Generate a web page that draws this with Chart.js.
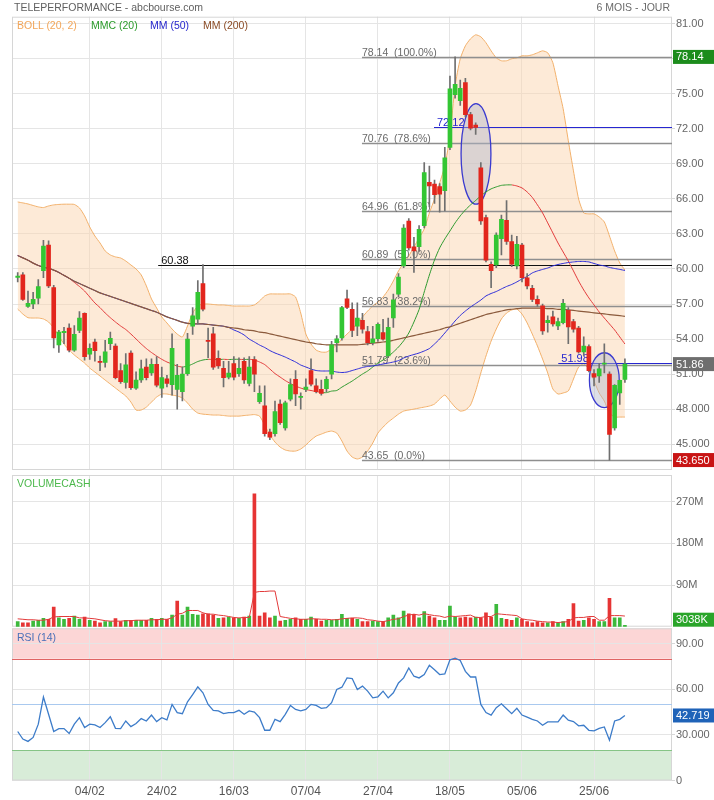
<!DOCTYPE html>
<html><head><meta charset="utf-8">
<script src="https://cdn.jsdelivr.net/npm/chart.js@4.4.0/dist/chart.umd.min.js"></script>
<style>
html,body{margin:0;padding:0;background:#fff;}
#wrap{position:relative;width:714px;height:800px;overflow:hidden;font-family:"Liberation Sans",Arial,sans-serif;}
canvas{position:absolute;left:0;}
.t{position:absolute;white-space:nowrap;line-height:11px;font-size:10.5px;}
</style></head><body>
<div id="wrap">
<canvas id="cPrice" width="714" height="471" style="top:0;width:714px;height:471px"></canvas>
<canvas id="cVol" width="714" height="160" style="top:470px;width:714px;height:160px"></canvas>
<canvas id="cRsi" width="714" height="173" style="top:627px;width:714px;height:173px"></canvas>
<div class="t" style="left:14px;top:2px;color:#5f5f5f">TELEPERFORMANCE - abcbourse.com</div>
<div class="t" style="right:44px;top:2px;color:#6a6a6a">6 MOIS - JOUR</div>
<div class="t" style="left:17px;top:20px;color:#f2a65a">BOLL (20, 2)</div>
<div class="t" style="left:91px;top:20px;color:#2a9a2a">MMC (20)</div>
<div class="t" style="left:150px;top:20px;color:#2525cc">MM (50)</div>
<div class="t" style="left:203px;top:20px;color:#8a4a24">MM (200)</div>
<div class="t" style="left:17px;top:478px;color:#4cb84c">VOLUMECASH</div>
<div class="t" style="left:17px;top:632px;color:#4a70b8">RSI (14)</div>
</div>
<script>
// ---------------- DATA ----------------
const dates = ['15/01','16/01','19/01','20/01','21/01','22/01','23/01','26/01','27/01','28/01','29/01','30/01',
'02/02','03/02','04/02','05/02','06/02','09/02','10/02','11/02','12/02','13/02','16/02','17/02','18/02','19/02','20/02','23/02','24/02','25/02','26/02','27/02',
'02/03','03/03','04/03','05/03','06/03','09/03','10/03','11/03','12/03','13/03','16/03','17/03','18/03','19/03','20/03','23/03','24/03','25/03','26/03','27/03','30/03','31/03',
'01/04','02/04','07/04','08/04','09/04','10/04','13/04','14/04','15/04','16/04','17/04','20/04','21/04','22/04','23/04','24/04','27/04','28/04','29/04','30/04',
'04/05','05/05','06/05','07/05','08/05','11/05','12/05','13/05','14/05','15/05','18/05','19/05','20/05','21/05','22/05','25/05','26/05','27/05','28/05','29/05',
'01/06','02/06','03/06','04/06','05/06','08/06','09/06','10/06','11/06','12/06','15/06','16/06','17/06','18/06','19/06','22/06','23/06','24/06','25/06','26/06','29/06','30/06',
'01/07','02/07','03/07'];
const dateTicks = ['04/02','24/02','16/03','07/04','27/04','18/05','05/06','25/06'];

const open = [59.28,59.5,56.8,57.0,57.5,59.85,62.05,58.4,53.5,54.55,54.95,53.05,54.75,56.2,52.7,53.75,52.1,52.0,53.6,53.4,
51.3,50.3,52.8,49.8,50.5,51.6,51.1,51.85,49.8,50.6,50.1,49.7,49.5,51.05,55.1,55.7,58.75,53.9,54.45,52.35,
51.5,50.75,51.9,51.05,52.1,50.2,52.25,48.65,48.3,46.05,45.9,48.45,46.4,48.85,50.55,49.0,49.7,51.3,50.0,49.7,
49.75,51.0,53.7,54.1,57.45,56.55,55.1,55.6,54.65,53.7,54.03,54.55,52.55,55.8,57.85,60.25,64.1,61.9,61.9,63.7,
67.4,67.25,67.05,66.7,70.4,74.9,74.4,75.95,73.2,72.3,68.65,64.4,60.4,60.35,62.6,64.15,62.35,60.25,62.05,59.25,
58.35,57.4,56.85,55.4,55.9,55.12,55.4,56.45,55.5,54.95,52.9,53.35,51.05,50.85,51.85,51.0,46.4,49.4,50.55];
const high = [59.7,59.7,58.1,58.0,59.1,62.45,62.4,58.6,54.75,55.0,55.3,55.15,56.35,56.25,53.6,54.0,52.55,53.9,54.6,53.6,
51.9,52.75,53.0,51.2,52.2,52.3,52.3,52.5,51.6,50.9,54.45,51.85,51.6,54.5,56.7,59.0,60.38,54.95,55.0,53.0,
52.1,52.1,52.5,52.4,52.4,52.5,52.5,50.0,50.0,46.3,48.7,48.8,48.7,50.6,51.3,49.4,50.6,52.3,50.6,50.5,
50.8,53.8,54.3,56.8,58.2,57.1,57.1,56.2,55.1,55.1,55.4,55.7,55.8,57.85,59.6,63.8,64.3,62.7,63.7,69.1,
68.8,67.6,67.3,70.4,76.5,78.14,76.15,76.3,73.4,72.5,69.1,64.6,60.6,63.1,64.6,65.85,62.9,62.8,62.2,59.6,
58.6,57.7,57.0,56.0,56.4,55.8,57.4,56.7,55.7,55.1,54.2,53.5,51.4,51.9,53.6,51.2,50.1,50.5,52.3];
const low = [58.9,57.3,56.7,56.6,57.0,59.25,58.4,53.25,52.85,53.6,52.9,52.95,54.55,52.2,52.25,52.1,51.3,51.6,53.1,50.6,
50.2,49.8,49.7,49.7,50.3,50.5,50.9,49.9,49.0,49.9,49.2,48.0,48.7,50.9,54.4,55.3,56.4,52.4,51.4,51.5,
49.9,50.6,50.5,50.8,50.2,50.0,49.5,48.5,45.7,45.4,45.7,46.7,46.2,48.7,48.3,48.0,49.5,50.0,49.4,49.2,
49.5,50.6,52.9,53.9,56.6,54.2,54.3,54.5,53.5,53.5,53.8,53.9,52.4,55.0,57.6,60.1,61.6,59.7,61.5,63.5,
65.3,65.6,64.85,64.96,70.2,74.6,74.0,73.0,71.9,71.5,63.8,60.6,58.4,60.1,61.2,62.1,60.2,60.0,58.9,58.3,
57.2,56.8,54.4,54.6,55.1,54.8,55.3,53.6,54.6,52.8,52.6,51.2,50.0,50.3,51.1,43.65,46.2,48.4,50.3];
const close = [59.32,57.4,57.05,57.4,58.5,61.95,58.55,54.1,54.6,54.65,53.05,54.4,55.8,52.5,53.2,53.0,52.0,52.9,54.07,50.7,
50.35,51.8,49.85,50.5,51.45,50.7,51.85,50.05,50.7,50.2,53.2,50.9,51.0,54.0,56.0,58.0,56.55,53.8,51.6,51.7,
50.7,51.1,50.75,51.5,50.5,51.6,51.0,49.35,45.9,45.6,47.8,46.85,48.55,50.1,49.3,49.1,49.9,50.15,49.5,49.35,
50.55,53.5,54.03,56.7,56.7,54.75,55.8,54.85,53.7,54.03,55.26,54.0,55.0,57.35,59.3,63.5,61.8,61.55,63.4,68.25,
67.1,66.35,66.4,69.5,75.4,75.8,75.45,73.2,72.05,72.1,64.1,60.75,59.85,62.9,64.25,62.35,60.4,62.1,59.25,58.55,
57.4,57.0,54.7,55.6,55.3,55.5,57.05,55.05,54.85,52.9,53.4,51.3,50.75,51.45,51.9,45.85,50.05,50.47,51.86];

const bollUpper = [65.73,65.65,65.56,65.43,65.31,65.25,65.39,65.48,65.52,65.54,65.54,65.52,65.22,64.54,63.59,62.82,62.22,61.54,61.20,61.03,
60.94,60.68,60.34,60.00,59.49,58.55,57.43,56.66,55.89,55.38,54.86,54.43,54.18,55.12,56.23,56.83,57.00,57.00,56.96,56.92,
56.92,56.87,56.83,56.83,56.83,56.83,56.92,57.26,57.69,57.86,57.86,57.86,57.86,57.86,57.60,56.23,54.43,53.58,53.06,52.89,
52.89,53.15,53.49,54.01,54.43,54.86,55.38,55.89,56.40,56.83,57.17,57.60,58.20,58.97,59.83,60.51,61.11,61.88,62.65,63.42,
64.79,65.99,67.36,68.82,71.39,75.67,77.98,79.09,79.69,80.03,79.86,79.35,78.66,78.06,77.81,77.81,77.98,78.06,78.23,78.23,
78.32,78.49,78.66,78.49,77.64,75.67,73.70,70.96,68.39,65.99,64.79,64.71,64.71,64.45,64.02,62.82,61.54,60.51,59.91];
const bollLower = [56.57,56.14,55.83,55.80,55.80,55.72,55.46,54.95,54.26,53.58,53.06,52.64,52.29,51.95,51.52,51.18,50.84,50.49,50.15,49.81,
49.47,49.13,48.61,47.93,47.93,48.18,48.61,49.04,49.30,49.30,49.21,49.13,48.96,48.53,48.01,47.67,47.58,47.54,47.50,47.50,
47.46,47.41,47.41,47.41,47.46,47.50,47.54,47.41,46.64,45.79,45.19,44.76,44.51,44.42,44.42,44.59,44.94,45.36,45.70,45.87,
46.04,46.13,45.96,45.28,44.42,43.91,43.74,43.91,44.42,45.11,45.96,46.47,46.90,47.24,47.58,47.84,47.93,48.01,48.10,48.18,
48.27,48.44,48.87,49.21,48.70,48.18,47.84,47.93,48.36,49.56,51.10,52.55,53.83,54.86,55.72,56.23,56.49,56.57,56.14,55.38,
54.43,53.41,52.29,51.10,49.73,49.30,49.39,49.56,50.58,51.61,51.87,51.44,50.41,49.39,48.70,47.67,47.33,47.33,47.33];

const mmc20 = [61.15,60.95,60.75,60.5,60.3,60.15,60.05,59.9,59.7,59.45,59.2,58.85,58.50,58.11,57.60,57.09,56.69,56.23,55.83,55.46,
55.12,54.82,54.43,54.01,53.58,53.19,52.85,52.55,52.27,52.04,51.87,51.69,51.61,51.69,51.87,52.08,52.21,52.27,52.25,52.25,
52.27,52.25,52.27,52.27,52.25,52.27,52.21,52.04,51.82,51.44,51.05,50.75,50.45,50.20,49.98,49.81,49.68,49.60,49.51,49.42,
49.42,49.55,49.60,49.89,50.15,50.41,50.71,51.01,51.27,51.61,51.95,52.21,52.51,52.89,53.32,53.85,54.52,55.46,56.53,58.03,
59.48,60.77,61.80,62.57,63.25,63.94,64.54,65.05,65.48,65.86,66.25,66.59,66.85,67.02,67.15,67.19,67.19,67.10,66.93,66.59,
66.12,65.48,64.79,63.94,63.08,62.22,61.45,60.68,59.83,58.97,58.20,57.52,56.92,56.32,55.80,55.29,54.78,54.18,53.58];
const mm200 = [61.15,60.95,60.75,60.5,60.3,60.15,60.05,59.9,59.7,59.45,59.2,58.95,58.75,58.55,58.35,58.15,57.95,57.8,57.65,57.5,
57.35,57.2,57.05,56.9,56.75,56.6,56.45,56.3,56.1,55.9,55.75,55.6,55.45,55.35,55.3,55.3,55.3,55.25,55.2,55.15,
55.1,55.0,54.95,54.9,54.8,54.75,54.7,54.6,54.55,54.45,54.35,54.25,54.15,54.05,53.95,53.85,53.75,53.7,53.6,53.55,
53.5,53.5,53.5,53.5,53.5,53.5,53.5,53.55,53.6,53.65,53.7,53.75,53.8,53.9,54.0,54.1,54.2,54.3,54.4,54.5,
54.6,54.7,54.8,54.95,55.05,55.2,55.35,55.5,55.65,55.8,55.95,56.1,56.2,56.3,56.4,56.5,56.55,56.6,56.65,56.65,
56.65,56.65,56.65,56.6,56.6,56.55,56.55,56.5,56.45,56.4,56.35,56.3,56.25,56.2,56.15,56.1,56.05,56.0,55.95];
const mm50 = [61.15,60.95,60.75,60.5,60.3,60.15,60.05,59.9,59.7,59.45,59.2,58.95,58.75,58.55,58.35,58.15,57.95,57.8,57.65,57.5,
57.35,57.2,57.05,56.9,56.75,56.6,56.45,56.3,56.1,55.9,55.75,55.6,55.45,55.35,55.3,55.3,55.3,55.25,55.2,55.15,
55.1,55.0,54.78,54.60,54.35,54.00,53.75,53.49,53.28,53.02,52.81,52.64,52.46,52.25,52.04,51.78,51.61,51.44,51.31,51.27,
51.27,51.27,51.18,51.14,51.18,51.31,51.44,51.57,51.66,51.70,51.78,51.87,51.95,52.04,52.16,52.38,52.55,52.68,52.81,52.98,
53.19,53.58,54.01,54.52,55.03,55.55,56.02,56.40,56.74,57.04,57.34,57.69,57.90,58.07,58.29,58.50,58.67,58.89,59.14,59.36,
59.66,59.83,59.96,60.08,60.26,60.38,60.47,60.55,60.60,60.64,60.64,60.60,60.47,60.34,60.26,60.13,60.04,59.96,59.87];

// volume in millions
const volume = [10.8,8.6,8.6,12.2,13.7,18,15.8,42.5,19.4,15.8, 18,23,15.8,20.9,13.7,12.2,8.6,10.8,10.8,17.3,
10.8,13.7,13.7,13.7,13.7,13.7,18,15.8,18,15.8, 25.2,55.4,25.2,42.5,26.6,25.2,28,28,25.2,18,
19.4,20.9,19.4,18,20.9,23,287,23,30.2,19.4, 23,12.2,13.7,15.8,19.4,15.8,15.8,20.9,15.8,12.2,
13.7,13.7,15.8,26.6,18,18,15.8,10.8,10.8,12.2, 10.8,10.8,19.4,25.2,19.4,33.8,28,26.6,19.4,32.4,
23,19.4,13.7,13.7,44.6,20.9,19.4,20.9,19.4,20.9, 19.4,30.2,20.9,48.2,18,15.8,13.7,19.4,15.8,10.8,
8.6,10.8,8.6,8.6,10.8,8.6,10.8,15.8,49.7,12.2, 13.7,19.4,15.8,10.8,10.8,61.2,19.4,19.4,3.038];
const volumeMA = [17,16,15,15,14,14,16,21,22,22, 22,22,19,19,18,17,15,13,12,12,
12,13,13,14,14,14,15,15,16,16, 19,27,29,35,35,35,30,27,27,25,
24,22,20,19,20,20,74,76,76,77, 77,22,20,18,17,16,16,17,17,16,
16,15,15,17,18,19,19,18,15,14, 12,11,13,16,17,22,25,27,25,28,
26,24,23,20,23,22,23,24,25,20, 20,22,22,28,27,26,25,24,17,15,
14,12,11,10,10,9,10,11,19,20, 20,22,22,14,14,24,24,24,23];

const rsi = [32.2,27.2,25.7,28.3,37,54.8,43.5,32.2,34.1,34.1, 30.9,37,41.3,34.8,37,36.5,34.8,38,41.9,34.3,
34.1,39.1,35.4,37.4,40.7,39.1,43,38.7,41.3,39.8, 50,44.6,43.9,51.7,56.5,61.5,57.6,50,46.1,45.7,
43.9,44.6,44.6,46.1,43.5,45.7,45,41.3,33,33, 40.2,38.7,43.5,49.3,46.7,45.7,46.7,50,49.3,47.4,
47.8,51.1,59.8,61.3,67.4,67,59.8,62,58.7,54.3, 55,58.7,54.3,57.6,64.1,67.4,73.9,68.5,67.4,69.6,
75.7,72.8,69.6,70,79.3,80.4,78.9,71.7,68,68, 50,44.6,43,47.8,50.4,47.2,43.9,47.4,43,41.7,
40.2,39.1,36.3,38.5,38.5,38.5,43,39.6,38.7,35.9, 36.3,33,32.6,34.3,35.2,26.5,39.1,40.2,42.719];

const priceTicks = [45,48,51,54,57,60,63,66,69,72,75,78,81];
const priceTickLabels = ['45.000','48.000','51.00','54.00','57.00','60.00','63.00','66.00','69.00','72.00','75.00','78.00','81.00'];
const volTicks = [90,180,270];
const volTickLabels = ['90M','180M','270M'];
const rsiTicks = [0,30,60,90];
const rsiTickLabels = ['0','30.000','60.00','90.00'];

const fibLevels = [78.14,70.76,64.96,60.89,56.83,51.79,43.65];
const fibPct = ['100.0%','78.6%','61.8%','50.0%','38.2%','23.6%','0.0%'];
const fibStart = 66.9;
const userLineValues = [60.38,72.12,51.98];
const userLineStarts = [27.3,80.9,105.05];
const ellipseCx = [89.06,114.0];
const ellipseCy = [69.84,50.48];
const ellipseRx = [2.9,2.9];
const ellipseRy = [4.3,2.35];

// ---------------- STYLE ----------------
const FONT = '"Liberation Sans", Arial, sans-serif';
Chart.defaults.font.family = FONT;
Chart.defaults.font.size = 11;
Chart.defaults.color = '#666';
const C = {
  up:'#33c633', down:'#e2261d', wick:'#6f6f6f', grid:'#e5e5e5', border:'#d6d6d6',
  bollLine:'#f2b06a', bollFill:'rgba(251,214,175,0.5)', mmcUp:'#2f9a2f', mmcDown:'#e23b3b',
  mm50:'#2b2bd8', mm200:'#8b5a3c', fib:'#8f8f8f', fibText:'#6a6a6a', userBlack:'#111', userBlue:'#2727d0',
  volUp:'#3cb93c', volDown:'#e63434', volMA:'#e23b3b', rsi:'#3d7cc9'
};
const X_MIN = -1.108, X_MAX = 127.15;
const idx = dates.map((d,i)=>i);
const pts = arr => arr.map((v,i)=>({x:i,y:v}));

function xAxis(showLabels){
  return {
    type:'linear', min:X_MIN, max:X_MAX, offset:false, bounds:'data',
    afterBuildTicks: s => { s.ticks = dateTicks.map(d => ({value: dates.indexOf(d)})); },
    afterFit: s => { s.height = showLabels ? 19.5 : 0; s.paddingLeft = 0; s.paddingRight = 0; },
    grid:{color:C.grid, drawTicks:false, offset:false},
    border:{display:false},
    ticks:{display:showLabels, autoSkip:false, maxRotation:0, padding:4, color:'#555', font:{size:12},
      callback: v => dates[v] !== undefined ? dates[v] : ''}
  };
}
function yAxis(min, max, ticks, labels){
  return {
    position:'right', min:min, max:max, bounds:'data',
    afterBuildTicks: s => { s.ticks = ticks.map(v => ({value:v})); },
    afterFit: s => { s.width = 42; s.paddingTop = 0; s.paddingBottom = 0; },
    grid:{color:C.grid, drawTicks:true, tickLength:3, tickColor:'#d8d8d8'},
    border:{display:false},
    ticks:{padding:1, color:'#666', font:{size:11}, callback: v => labels[ticks.indexOf(v)]}
  };
}
function frame(chart){
  const {ctx, chartArea:a} = chart;
  ctx.save(); ctx.strokeStyle = C.border; ctx.lineWidth = 1;
  ctx.strokeRect(a.left+0.5, a.top+0.5, a.right-a.left-1, a.bottom-a.top-1);
  ctx.restore();
}
function valueBox(chart, value, text, bg){
  const {ctx, chartArea:a, scales:{y}} = chart;
  const h = 14;
  let py = y.getPixelForValue(value);
  py = Math.min(Math.max(py, a.top + h/2), a.bottom - h/2);
  ctx.save();
  ctx.fillStyle = bg; ctx.fillRect(a.right+1, py-h/2, chart.width-a.right-1, h);
  ctx.fillStyle = '#fff'; ctx.font = '11px ' + FONT; ctx.textAlign='left'; ctx.textBaseline='middle';
  ctx.fillText(text, a.right+4, py+0.5);
  ctx.restore();
}

// ---------------- PRICE ----------------
const pricePlugin = {
  id:'pricePlugin',
  beforeDatasetsDraw(chart){ frame(chart); },
  afterDatasetDraw(chart, args){
    if (args.index !== 1) return;
    const {ctx, chartArea:a, scales:{x,y}} = chart;
    ctx.save();
    ctx.font = '10.5px ' + FONT; ctx.textBaseline = 'alphabetic'; ctx.textAlign = 'left';
    const fx = x.getPixelForValue(fibStart);
    fibLevels.forEach((v,i)=>{
      const py = Math.round(y.getPixelForValue(v)) + 0.5;
      ctx.strokeStyle = C.fib; ctx.lineWidth = 1.4;
      ctx.beginPath(); ctx.moveTo(fx, py); ctx.lineTo(a.right, py); ctx.stroke();
      ctx.fillStyle = C.fibText;
      ctx.fillText(v.toFixed(2) + '  (' + fibPct[i] + ')', fx, py - 1.5);
    });
    userLineValues.forEach((v,i)=>{
      const col = i === 0 ? C.userBlack : C.userBlue;
      const sx = x.getPixelForValue(userLineStarts[i]);
      const py = Math.round(y.getPixelForValue(v)) + 0.5;
      ctx.strokeStyle = col; ctx.lineWidth = 1;
      ctx.beginPath(); ctx.moveTo(sx, py); ctx.lineTo(a.right, py); ctx.stroke();
      ctx.fillStyle = col; ctx.font = '11px ' + FONT;
      ctx.fillText(v.toFixed(2), sx + 3, py - 2);
    });
    ellipseCx.forEach((cx,i)=>{
      const px = x.getPixelForValue(cx), py = y.getPixelForValue(ellipseCy[i]);
      const rx = Math.abs(x.getPixelForValue(cx + ellipseRx[i]) - px);
      const ry = Math.abs(y.getPixelForValue(ellipseCy[i] + ellipseRy[i]) - py);
      ctx.beginPath(); ctx.ellipse(px, py, rx, ry, 0, 0, Math.PI*2);
      ctx.fillStyle = 'rgba(178,184,204,0.45)'; ctx.fill();
      ctx.strokeStyle = '#3a3acf'; ctx.lineWidth = 1.3; ctx.stroke();
    });
    ctx.restore();
  },
  afterDraw(chart){
    valueBox(chart, fibLevels[0], fibLevels[0].toFixed(2), '#1c8c1c');
    valueBox(chart, close[close.length-1], close[close.length-1].toFixed(2), '#6e6e6e');
    valueBox(chart, fibLevels[fibLevels.length-1], fibLevels[fibLevels.length-1].toFixed(3), '#c81414');
  }
};

const candleColors = idx.map(i => close[i] >= open[i] ? C.up : C.down);
new Chart(document.getElementById('cPrice'), {
  type:'bar',
  data:{ datasets:[
    {type:'line', data:pts(bollUpper), borderColor:C.bollLine, borderWidth:1, pointRadius:0, fill:false, order:11, tension:0.2},
    {type:'line', data:pts(bollLower), borderColor:C.bollLine, borderWidth:1, pointRadius:0, fill:'-1', backgroundColor:C.bollFill, order:10, tension:0.2},
    {type:'line', data:pts(mmc20), borderWidth:1, pointRadius:0, order:5, tension:0.2, borderColor:C.mmcDown,
      segment:{borderColor: c => c.p1.parsed.y >= c.p0.parsed.y ? C.mmcUp : C.mmcDown}},
    {type:'line', data:pts(mm50), borderColor:C.mm50, borderWidth:1, pointRadius:0, order:4, tension:0.2},
    {type:'line', data:pts(mm200), borderColor:C.mm200, borderWidth:1.2, pointRadius:0, order:3, tension:0.2},
    {type:'bar', data:idx.map(i=>({x:i, y:[low[i], high[i]]})), backgroundColor:C.wick, barThickness:1, grouped:false, order:2},
    {type:'bar', data:idx.map(i=>({x:i, y:[open[i], close[i]]})), backgroundColor:candleColors, barThickness:4, minBarLength:1.2, grouped:false, order:1}
  ]},
  options:{
    responsive:false, animation:false, events:[],
    layout:{padding:{top:16.7, bottom:1, left:12, right:0}},
    plugins:{legend:{display:false}, tooltip:{enabled:false}, filler:{drawTime:'beforeDatasetsDraw'}},
    scales:{ x:xAxis(false), y:yAxis(42.80, 81.58, priceTicks, priceTickLabels) }
  },
  plugins:[pricePlugin]
});

// ---------------- VOLUME ----------------
const volColors = idx.map(i => (i === 0 ? close[i] > open[i] : close[i] >= close[i-1]) ? C.volUp : C.volDown);
const volPlugin = {
  id:'volPlugin',
  beforeDatasetsDraw(chart){ frame(chart); },
  afterDraw(chart){
    const v = volume[volume.length-1];
    valueBox(chart, v, Math.round(v*1000) + 'K', '#2aa52a');
  }
};
new Chart(document.getElementById('cVol'), {
  type:'bar',
  data:{ datasets:[
    {type:'line', data:pts(volumeMA), borderColor:C.volMA, borderWidth:1, pointRadius:0, order:1},
    {type:'bar', data:idx.map(i=>({x:i, y:volume[i]})), backgroundColor:volColors, barThickness:3, grouped:false, order:2}
  ]},
  options:{
    responsive:false, animation:false, events:[],
    layout:{padding:{top:5, bottom:3.3, left:12, right:0}},
    plugins:{legend:{display:false}, tooltip:{enabled:false}},
    scales:{ x:xAxis(false), y:yAxis(0, 327.6, volTicks, volTickLabels) }
  },
  plugins:[volPlugin]
});

// ---------------- RSI ----------------
const rsiPlugin = {
  id:'rsiPlugin',
  beforeDraw(chart){
    const {ctx, chartArea:a, scales:{y}} = chart;
    ctx.save();
    ctx.fillStyle = '#fcd6d6';
    ctx.fillRect(a.left, y.getPixelForValue(100), a.right-a.left, y.getPixelForValue(80)-y.getPixelForValue(100));
    ctx.fillStyle = '#d8ecd8';
    ctx.fillRect(a.left, y.getPixelForValue(20), a.right-a.left, y.getPixelForValue(0)-y.getPixelForValue(20));
    ctx.restore();
  },
  beforeDatasetsDraw(chart){
    const {ctx, chartArea:a, scales:{y}} = chart;
    frame(chart);
    ctx.save(); ctx.lineWidth = 1;
    [[80,'#e06464'],[20,'#86c486'],[50,'#a9c9ef']].forEach(([v,col])=>{
      const py = Math.round(y.getPixelForValue(v)) + 0.5;
      ctx.strokeStyle = col; ctx.beginPath(); ctx.moveTo(a.left, py); ctx.lineTo(a.right, py); ctx.stroke();
    });
    ctx.restore();
  },
  afterDraw(chart){
    const v = rsi[rsi.length-1];
    valueBox(chart, v, v.toFixed(3), '#1f63b8');
  }
};
new Chart(document.getElementById('cRsi'), {
  type:'line',
  data:{ datasets:[
    {data:pts(rsi), borderColor:C.rsi, borderWidth:1.3, pointRadius:0, tension:0}
  ]},
  options:{
    responsive:false, animation:false, events:[],
    layout:{padding:{top:1.3, bottom:0, left:12, right:0}},
    plugins:{legend:{display:false}, tooltip:{enabled:false}},
    scales:{ x:xAxis(true), y:yAxis(0, 100, rsiTicks, rsiTickLabels) }
  },
  plugins:[rsiPlugin]
});
</script>
</body></html>
